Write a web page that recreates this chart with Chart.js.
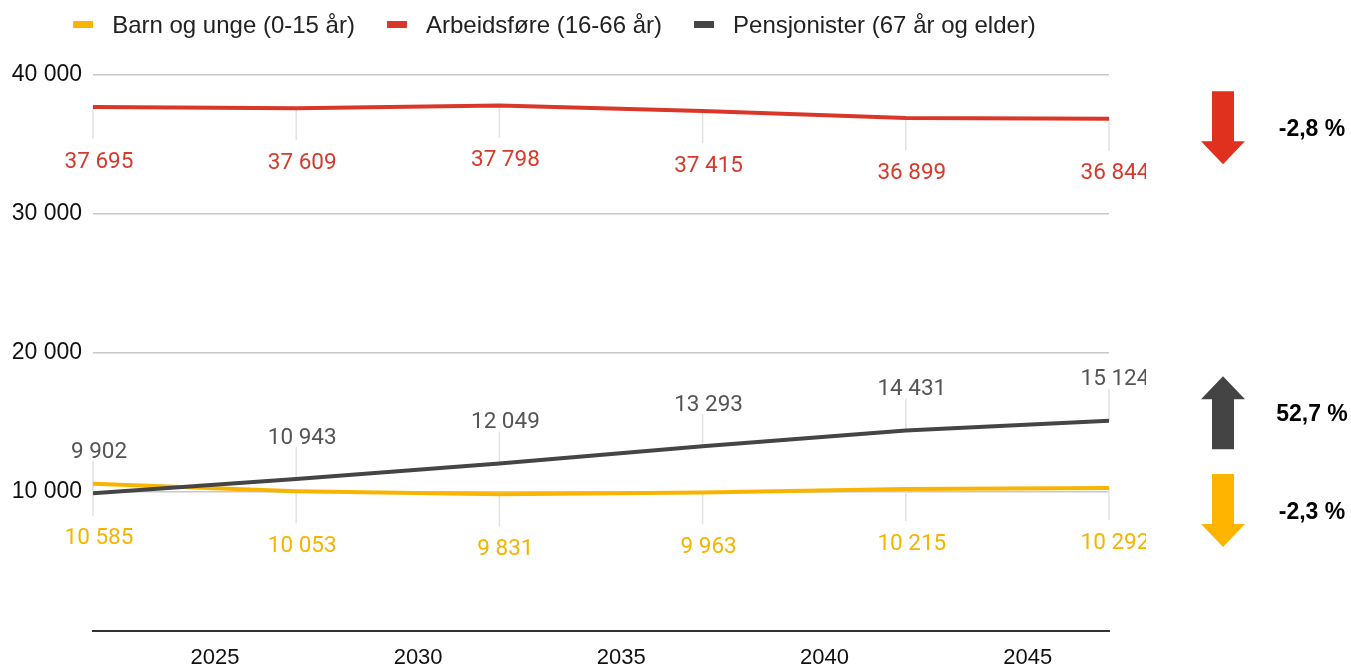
<!DOCTYPE html>
<html>
<head>
<meta charset="utf-8">
<script src="https://cdn.jsdelivr.net/npm/chart.js@4"></script>
<style>
  html, body { margin: 0; padding: 0; background: #fff; }
  #wrap { width: 1351px; height: 666px; }
</style>
</head>
<body>
<div id="wrap"><canvas id="popChart"></canvas></div>
<script>
var years = [2022, 2027, 2032, 2037, 2042, 2047];
var xTicks = [2025, 2030, 2035, 2040, 2045];
var yTicks = [0, 10000, 20000, 30000, 40000];

var barnUnge = [10585, 10053, 9831, 9963, 10215, 10292];
var arbeidsfore = [37695, 37609, 37798, 37415, 36899, 36844];
var pensjonister = [9902, 10943, 12049, 13293, 14431, 15124];

var seriesNames = ['Barn og unge (0-15 år)', 'Arbeidsføre (16-66 år)', 'Pensjonister (67 år og elder)'];
var changeLabels = ['-2,8 %', '52,7 %', '-2,3 %'];

var YELLOW = '#f9b400';
var RED = '#d9372a';
var GREY = '#454545';

Chart.defaults.font.family = '"Liberation Sans", Arial, sans-serif';

function fmt(n) {
  return String(Math.round(n)).replace(/\B(?=(\d{3})+(?!\d))/g, ' ');
}

function toPoints(vals) {
  return years.map(function (yr, i) { return { x: yr, y: vals[i] }; });
}

// arrows at the right side, anchored on the y scale
var arrows = [
  { text: changeLabels[0], color: '#e0311f', dir: 'down', at: 36200 },
  { text: changeLabels[1], color: '#444444', dir: 'up', at: 15700 },
  { text: changeLabels[2], color: '#ffb400', dir: 'down', at: 8670 }
];

var pointLabels = {
  id: 'pointLabels',
  beforeDatasetsDraw: function (chart) {
    var ctx = chart.ctx;
    ctx.save();
    ctx.strokeStyle = '#e2e2e2';
    ctx.lineWidth = 1.5;
    chart.data.datasets.forEach(function (ds, i) {
      chart.getDatasetMeta(i).data.forEach(function (pt) {
        var below = ds.labelSide === 'below';
        var end = below ? pt.y + 32 : pt.y - 32;
        ctx.beginPath();
        ctx.moveTo(pt.x, pt.y);
        ctx.lineTo(pt.x, end);
        ctx.stroke();
      });
    });
    ctx.restore();
  },
  afterDatasetsDraw: function (chart) {
    var ctx = chart.ctx, area = chart.chartArea;
    ctx.save();
    ctx.beginPath();
    ctx.rect(0, 0, area.right + 37, chart.height);
    ctx.clip();
    ctx.font = '22.5px Roboto';
    ctx.textAlign = 'center';
    ctx.textBaseline = 'middle';
    chart.data.datasets.forEach(function (ds, i) {
      chart.getDatasetMeta(i).data.forEach(function (pt, j) {
        var below = ds.labelSide === 'below';
        ctx.fillStyle = ds.labelColor;
        ctx.fillText(fmt(ds.data[j].y), pt.x + 6, below ? pt.y + 55 : pt.y - 41);
      });
    });
    ctx.restore();
  }
};

var sideNotes = {
  id: 'sideNotes',
  afterDraw: function (chart) {
    var ctx = chart.ctx, y = chart.scales.y;
    var cx = 1223;
    ctx.save();
    arrows.forEach(function (a) {
      var cy = y.getPixelForValue(a.at);
      var half = 36.5, head = 23, shaft = 11, wing = 22;
      var s = a.dir === 'down' ? 1 : -1;
      var tail = cy - s * half, tip = cy + s * half, base = tip - s * head;
      ctx.fillStyle = a.color;
      ctx.beginPath();
      ctx.moveTo(cx - shaft, tail);
      ctx.lineTo(cx + shaft, tail);
      ctx.lineTo(cx + shaft, base);
      ctx.lineTo(cx + wing, base);
      ctx.lineTo(cx, tip);
      ctx.lineTo(cx - wing, base);
      ctx.lineTo(cx - shaft, base);
      ctx.closePath();
      ctx.fill();

      ctx.fillStyle = '#000';
      ctx.font = 'bold 23px "Liberation Sans", Arial, sans-serif';
      ctx.textAlign = 'center';
      ctx.textBaseline = 'middle';
      ctx.fillText(a.text, 1312, cy + 2);
    });

    // legend row
    ctx.font = '24px "Liberation Sans", Arial, sans-serif';
    ctx.textAlign = 'left';
    ctx.textBaseline = 'middle';
    var items = chart.data.datasets.map(function (ds) {
      return { label: ds.label, color: ds.borderColor, w: ctx.measureText(ds.label).width };
    });
    var total = items.reduce(function (s, it) { return s + 39 + it.w; }, 0) + 32 * (items.length - 1);
    var x = chart.chartArea.right / 2 - total / 2;
    items.forEach(function (it) {
      ctx.fillStyle = it.color;
      ctx.fillRect(x, 21, 20, 7);
      ctx.fillStyle = '#222';
      ctx.fillText(it.label, x + 39, 26);
      x += 39 + it.w + 32;
    });
    ctx.restore();
  }
};

var datasets = [
  { label: seriesNames[0], data: toPoints(barnUnge), borderColor: YELLOW, labelColor: '#f4b400', labelSide: 'below', order: 2 },
  { label: seriesNames[1], data: toPoints(arbeidsfore), borderColor: RED, labelColor: '#d63a2c', labelSide: 'below', order: 1 },
  { label: seriesNames[2], data: toPoints(pensjonister), borderColor: GREY, labelColor: '#555555', labelSide: 'above', order: 0 }
];
datasets.forEach(function (ds) {
  ds.borderWidth = 4;
  ds.pointRadius = 0;
  ds.tension = 0;
  ds.fill = false;
});

var chart = new Chart(document.getElementById('popChart'), {
  type: 'line',
  data: { datasets: datasets },
  options: {
    responsive: true,
    maintainAspectRatio: false,
    animation: false,
    layout: { padding: { top: 75, right: 242, left: 0, bottom: 0 } },
    plugins: {
      legend: { display: false },
      tooltip: { enabled: false }
    },
    scales: {
      x: {
        type: 'linear',
        min: years[0],
        max: years[years.length - 1],
        afterBuildTicks: function (scale) {
          scale.ticks = xTicks.map(function (v) { return { value: v }; });
        },
        afterFit: function (scale) { scale.height = 35; },
        grid: { display: false, drawTicks: false },
        border: { display: true, color: '#333', width: 2 },
        ticks: {
          padding: 14,
          color: '#111',
          font: { size: 22 },
          maxRotation: 0,
          callback: function (v) { return String(v); }
        }
      },
      y: {
        min: 0,
        max: 40000,
        afterBuildTicks: function (scale) {
          scale.ticks = yTicks.map(function (v) { return { value: v }; });
        },
        afterFit: function (scale) { scale.width = 93; },
        grid: { color: '#c8c8c8', lineWidth: 1.5, drawTicks: false },
        border: { display: false },
        ticks: {
          padding: 11,
          color: '#111',
          font: { size: 23 },
          callback: function (v) { return v === 0 ? '' : fmt(v); }
        }
      }
    }
  },
  plugins: [pointLabels, sideNotes]
});
</script>
</body>
</html>
